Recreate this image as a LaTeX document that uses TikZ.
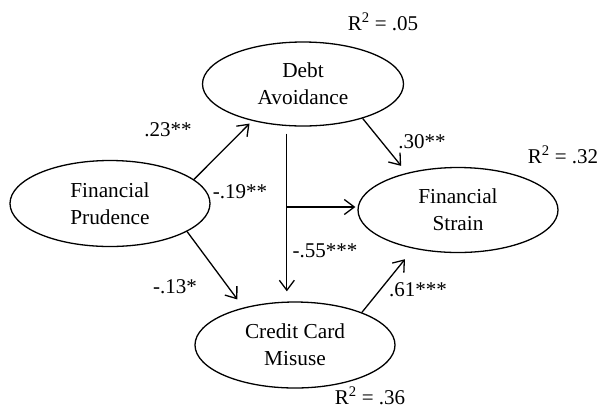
\documentclass[tikz,border=0pt]{standalone}
\usepackage{fontspec}
\setmainfont{Liberation Serif}
\usetikzlibrary{shapes.geometric,arrows.meta}
\begin{document}
\begin{tikzpicture}[x=1pt,y=-1pt,
  latent/.style={draw, line width=1.3pt, ellipse, inner sep=0pt,
    minimum width=200pt, minimum height=86pt, align=center,
    font=\fontsize{21.3}{27}\selectfont},
  arr/.style={line width=1.3pt, -{Straight Barb[length=10pt,width=15pt,line width=1.3pt]}},
  coef/.style={font=\fontsize{21}{25}\selectfont, inner sep=0pt},
]
\useasboundingbox (0,0) rectangle (601,408);
\node[latent] (fp)  at (110,203.5) {Financial\\Prudence};
\node[latent, minimum width=201pt, minimum height=84pt] (da)  at (303,84) {Debt\\Avoidance};
\node[latent, minimum height=85pt] (fs)  at (458,210) {Financial\\Strain};
\node[latent] (ccm) at (295,345) {Credit Card\\Misuse};

% paths
\draw[arr, shorten >=3.8pt] (fp.16.5) -- (da.216);
\draw[arr, shorten >=10pt] (fp.340) -- (ccm.144);
\draw[arr, shorten <=7.5pt, shorten >=10pt] (da.249) -- (da.249 |- ccm.north);
\coordinate (junction) at (287,207);
\draw[arr, shorten >=2pt] (junction) -- (junction -| fs.west);
\draw[arr, shorten >=9pt] (da.330.5) -- (fs.144);
\draw[arr, shorten >=13.5pt] (ccm.26) -- (fs.221);

% coefficients
\node[coef] (c1) at (168,130) {.23**};
\node[coef] (c2) at (240,192) {-.19**};
\node[coef] (c3) at (175,287) {-.13*};
\node[coef] (c4) at (325,251) {-.55***};
\node[coef] (c5) at (422,142) {.30**};
\node[coef] (c6) at (418,290) {.61***};

% R squared
\node[coef] (r1) at (383,22) {R\textsuperscript{2} = .05};
\node[coef] (r2) at (563,155) {R\textsuperscript{2} = .32};
\node[coef] (r3) at (370,396) {R\textsuperscript{2} = .36};
\end{tikzpicture}
\end{document}
